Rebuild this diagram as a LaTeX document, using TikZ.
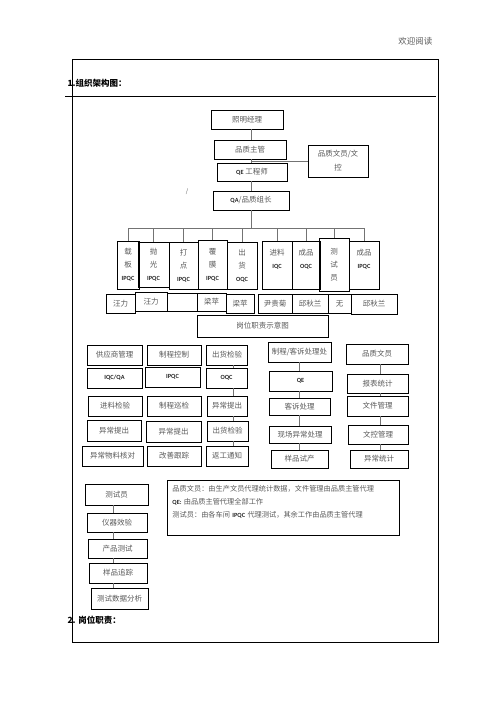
\documentclass[tikz,border=0pt]{standalone}
\usepackage{fontspec}
\setmainfont{Noto Sans CJK SC}
\newfontfamily\carlito{Carlito}
\definecolor{inkgray}{gray}{0.35}
\definecolor{linegray}{gray}{0.45}
\newcommand\en[1]{{\carlito\bfseries\fontsize{6.3}{7}\selectfont\color{black!85} #1}}

\begin{document}
\begin{tikzpicture}[x=1pt, y=-1pt,
        box/.style={rectangle, draw, line width=0.9pt, inner sep=1pt, align=center, text=inkgray, font=\fontsize{7.5}{9}\selectfont},
        tall/.style={box, font=\fontsize{7.5}{13}\selectfont},
        link/.style={draw=linegray, line width=1pt},
        head/.style={anchor=west, font=\fontsize{8.5}{10}\selectfont\bfseries}
    ]
        \useasboundingbox (0,0) rectangle (496,702);
        % page frame
        \node[anchor=east, text=inkgray, font=\fontsize{8.5}{10}\selectfont] (welcome) at (436,41) {欢迎阅读};
        \draw[line width=0.8pt] (72,59) rectangle (438,642);
        \draw[line width=0.8pt] (65,96) -- (436,96);
        \node[head] (title1) at (64,83) {1.组织架构图：};
        \node[head] (title2) at (64,620) {2. 岗位职责：};

        % top chain
        \node[box, minimum width=72, minimum height=19] (mgr) at (247,119.5) {照明经理};
        \node[box, minimum width=72, minimum height=19] (sup) at (250,149.5) {品质主管};
        \node[box, minimum width=60, minimum height=32, font=\fontsize{7.5}{14}\selectfont] (clerk) at (338,161) {品质文员/文\\控};
        \node[box, minimum width=70, minimum height=18] (qe) at (252,172) {\en{QE} 工程师};
        \node[box, minimum width=76, minimum height=19] (qa) at (251,200.5) {\en{QA}/品质组长};
        \node[text=inkgray, font=\fontsize{6}{7}\selectfont] (mark) at (187,192) {/};

        \coordinate (bus) at (251,228);
        \coordinate (tap) at (251,161);
        \draw[link] (mgr.south -| tap) -- (sup.north -| tap);
        \draw[link] (sup.south -| tap) -- (qe.north -| tap);
        \draw[link] (qe.south -| tap) -- (qa.north -| tap);
        \draw[link] (qa.south -| tap) -- (bus);
        \draw[link] (tap) -- (clerk.west |- tap);

        % posts
        \node[tall, minimum width=22, minimum height=48] (r1) at (128,265) {载\\板\\\en{IPQC}};
        \node[tall, minimum width=31, minimum height=45] (r2) at (153.5,264.5) {抛\\光\\\en{IPQC}};
        \node[tall, minimum width=29, minimum height=47] (r3) at (183.5,265.5) {打\\点\\\en{IPQC}};
        \node[tall, minimum width=29, minimum height=49] (r4) at (212.5,264.5) {覆\\膜\\\en{IPQC}};
        \node[tall, minimum width=30, minimum height=47] (r5) at (242,265.5) {出\\货\\\en{OQC}};
        \node[tall, minimum width=30, minimum height=48] (r6) at (277,265) {进料\\\en{IQC}\\\mbox{}};
        \node[tall, minimum width=28, minimum height=48] (r7) at (306,265) {成品\\\en{OQC}\\\mbox{}};
        \node[tall, minimum width=30, minimum height=53] (r8) at (334,264.5) {测\\试\\员};
        \node[tall, minimum width=30, minimum height=48] (r9) at (364,265) {成品\\\en{IPQC}\\\mbox{}};

        \draw[link] (r1.north |- bus) -- (r9.north |- bus);
        \foreach \n in {r1,r2,r3,r4,r5,r6,r7,r8,r9}
            \draw[link] (\n.north |- bus) -- (\n.north);

        % names
        \node[box, minimum width=29, minimum height=19] (n1) at (120.5,303.5) {汪力};
        \node[box, minimum width=32, minimum height=19] (n2) at (151,302) {汪力};
        \node[box, minimum width=30, minimum height=18] (n3) at (182,302.5) {};
        \node[box, minimum width=29, minimum height=18] (n4) at (211.5,302) {梁苹};
        \node[box, minimum width=28, minimum height=19] (n5) at (240,303.5) {梁苹};
        \node[box, minimum width=34, minimum height=19] (n6) at (275,303.5) {尹贵菊};
        \node[box, minimum width=36, minimum height=19] (n7) at (310,303.5) {邱秋兰};
        \node[box, minimum width=23, minimum height=19] (n8) at (339.5,303.5) {无};
        \node[box, minimum width=46, minimum height=20] (n9) at (374,304) {邱秋兰};

        \node[box, minimum width=131, minimum height=22] (legend) at (262.5,326) {岗位职责示意图};

        % duties
        \node[box, minimum width=55, minimum height=20] (a1) at (114.5,355) {供应商管理};
        \node[box, minimum width=55, minimum height=20] (a2) at (114.5,378) {\en{IQC/QA}};
        \node[box, minimum width=54, minimum height=20] (a3) at (115,406) {进料检验};
        \node[box, minimum width=54, minimum height=21] (a4) at (114,430.5) {异常提出};
        \node[box, minimum width=61, minimum height=20] (a5) at (112.5,456) {异常物料核对};

        \node[box, minimum width=54, minimum height=20] (b1) at (174,355) {制程控制};
        \node[box, minimum width=55, minimum height=20] (b2) at (172.5,377) {\en{IPQC}};
        \node[box, minimum width=54, minimum height=20] (b3) at (174,406) {制程巡检};
        \node[box, minimum width=55, minimum height=21] (b4) at (173.5,431.5) {异常提出};
        \node[box, minimum width=54, minimum height=20] (b5) at (174,456) {改善跟踪};

        \node[box, minimum width=41, minimum height=20] (c1) at (227,355) {出货检验};
        \node[box, minimum width=41, minimum height=20] (c2) at (226.5,378) {\en{OQC}};
        \node[box, minimum width=40, minimum height=20] (c3) at (227,406) {异常提出};
        \node[box, minimum width=41, minimum height=20] (c4) at (227.5,431) {出货检验};
        \node[box, minimum width=42, minimum height=20] (c5) at (227,456) {返工通知};

        \node[box, minimum width=63, minimum height=20] (d1) at (299.5,352) {制程/客诉处理处};
        \node[box, minimum width=63, minimum height=20] (d2) at (300.5,381) {\en{QE}};
        \node[box, minimum width=61, minimum height=17] (d3) at (299.5,406.5) {客诉处理};
        \node[box, minimum width=62, minimum height=17] (d4) at (300,434.5) {现场异常处理};
        \node[box, minimum width=57, minimum height=18] (d5) at (299.5,459) {样品试产};

        \node[box, minimum width=62, minimum height=20] (e1) at (377,354) {品质文员};
        \node[box, minimum width=61, minimum height=19] (e2) at (377.5,383.5) {报表统计};
        \node[box, minimum width=61, minimum height=20] (e3) at (377.5,406) {文件管理};
        \node[box, minimum width=60, minimum height=19] (e4) at (378,434.5) {文控管理};
        \node[box, minimum width=58, minimum height=18] (e5) at (379,459) {异常统计};

        \foreach \a/\b in {c1/c2,c2/c3,c3/c4,c4/c5}
            \draw[link] (\a.south -| 233,0) -- (\b.north -| 233,0);
        \foreach \a/\b in {d1/d2,d2/d3,d3/d4,d4/d5}
            \draw[link] (\a.south -| 299,0) -- (\b.north -| 299,0);
        \foreach \a/\b in {e1/e2,e2/e3,e3/e4,e4/e5}
            \draw[link] (\a.south -| 380,0) -- (\b.north -| 380,0);

        % tester
        \node[box, minimum width=63, minimum height=21] (t1) at (116.5,494.5) {测试员};
        \node[box, minimum width=60, minimum height=19] (t2) at (117,522.5) {仪器效验};
        \node[box, minimum width=59, minimum height=19] (t3) at (117.5,548.5) {产品测试};
        \node[box, minimum width=58, minimum height=20] (t4) at (118,573) {样品追踪};
        \node[box, minimum width=57, minimum height=21] (t5) at (119.5,598.5) {测试数据分析};
        \foreach \a/\b in {t1/t2,t2/t3,t3/t4,t4/t5}
            \draw[link] (\a.south -| 113,0) -- (\b.north -| 113,0);

        \node[box, anchor=north west, minimum width=232, minimum height=52, text width=222, align=left, inner sep=5pt, font=\fontsize{7.2}{13}\selectfont] (note) at (167,480)
            {品质文员：由生产文员代理统计数据，文件管理由品质主管代理\\\en{QE:} 由品质主管代理全部工作\\测试员：由各车间 \en{IPQC} 代理测试，其余工作由品质主管代理\\\mbox{}};
    \end{tikzpicture}
\end{document}
